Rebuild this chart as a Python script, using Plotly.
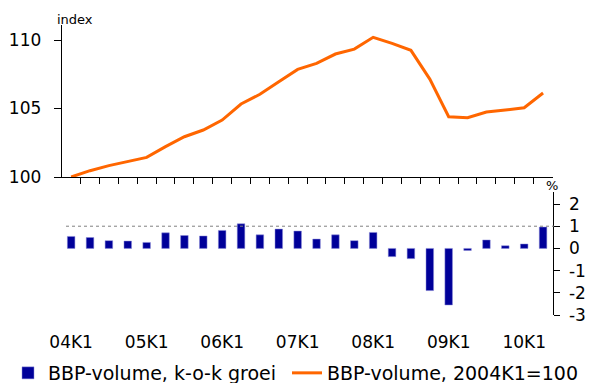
import plotly.graph_objects as go

quarters = ["04K1", "04K2", "04K3", "04K4", "05K1", "05K2", "05K3", "05K4",
            "06K1", "06K2", "06K3", "06K4", "07K1", "07K2", "07K3", "07K4",
            "08K1", "08K2", "08K3", "08K4", "09K1", "09K2", "09K3", "09K4",
            "10K1", "10K2"]
index_values = [100.0, 100.46, 100.83, 101.14, 101.43, 102.22, 102.94, 103.43,
                104.16, 105.33, 106.04, 106.96, 107.86, 108.3, 108.98, 109.34,
                110.2, 109.76, 109.25, 107.15, 104.4, 104.33, 104.74, 104.89,
                105.06, 106.13]
growth = [0.54, 0.49, 0.35, 0.33, 0.27, 0.70, 0.58, 0.56, 0.81, 1.11, 0.61, 0.87,
          0.78, 0.42, 0.61, 0.35, 0.72, -0.37, -0.46, -1.9, -2.55, -0.09, 0.38,
          0.12, 0.2, 0.96]
label_quarters = ["04K1", "05K1", "06K1", "07K1", "08K1", "09K1", "10K1"]
top_ticks = [100, 105, 110]
bottom_ticks = [-3, -2, -1, 0, 1, 2]

W, H = 593, 383
FONT = "DejaVu Sans"
xpos = list(range(len(quarters)))
boundaries = [i + 0.5 for i in xpos[:-1]]
label_pos = [quarters.index(q) for q in label_quarters]
xr = [-0.5, len(quarters) - 0.5]

def px_x(p):
    return p / W

def px_y(p):
    return 1 - p / H

xdom = [px_x(61.7), px_x(552.5)]
fig = go.Figure()
fig.add_trace(go.Bar(x=xpos, y=growth, xaxis="x2", yaxis="y2",
                     name="BBP-volume, k-o-k groei", width=0.4, legend="legend",
                     marker=dict(color="#000099", line=dict(color="#8c8cd9", width=0.5))))
fig.add_trace(go.Scatter(x=xpos, y=index_values, xaxis="x", yaxis="y", mode="lines",
                         name="BBP-volume, 2004K1=100", legend="legend2",
                         line=dict(color="#ff6600", width=3)))

axis_common = dict(showgrid=False, zeroline=False, color="black", automargin=False,
                   tickfont=dict(family=FONT, size=17, color="black"))
legend_common = dict(orientation="h", xanchor="left", y=px_y(392), yanchor="bottom",
                     font=dict(family=FONT, size=19, color="black"),
                     bgcolor="rgba(0,0,0,0)", itemwidth=30)

fig.update_layout(
    width=W, height=H,
    margin=dict(l=0, r=0, t=0, b=0, autoexpand=False),
    paper_bgcolor="white", plot_bgcolor="rgba(0,0,0,0)",
    font=dict(family=FONT, size=17, color="black"),
    xaxis=dict(domain=xdom, anchor="y", range=xr, showline=True, linecolor="black",
               linewidth=1, ticks="outside", ticklen=6, tickcolor="black",
               tickvals=boundaries, showticklabels=False, showgrid=False, zeroline=False),
    yaxis=dict(domain=[px_y(177), px_y(25)], anchor="x", range=[100, 111.1],
               tickvals=top_ticks, showline=True, linecolor="black", linewidth=1,
               ticks="outside", ticklen=7, tickcolor="black", ticklabelstandoff=9,
               **axis_common),
    xaxis2=dict(domain=xdom, anchor="y2", range=xr, showline=False, ticks="",
                tickvals=label_pos, ticktext=label_quarters, ticklabelstandoff=15,
                **axis_common),
    xaxis3=dict(domain=xdom, overlaying="x2", anchor="free", position=px_y(248.7),
                range=xr, showline=True, linecolor="black", linewidth=1,
                ticks="outside", ticklen=6, tickcolor="black", tickvals=boundaries,
                showticklabels=False, showgrid=False, zeroline=False),
    yaxis2=dict(domain=[px_y(315), px_y(191.8)], anchor="x2", side="right",
                range=[-3, 2.55], tickvals=bottom_ticks,
                ticktext=[str(v) for v in bottom_ticks], showline=True,
                linecolor="black", linewidth=1, ticks="outside", ticklen=6,
                tickcolor="black", ticklabelstandoff=6, **axis_common),
    showlegend=True,
    legend=dict(x=px_x(8), **legend_common),
    legend2=dict(x=px_x(287), **legend_common),
    bargap=0.6,
)

fig.add_shape(type="line", xref="paper", yref="y2", x0=px_x(66), x1=px_x(554),
              y0=1, y1=1, line=dict(color="#808080", width=1, dash="dot"))

fig.add_annotation(text="index", xref="paper", yref="paper", x=px_x(55), y=px_y(19.5),
                   xanchor="left", yanchor="middle", showarrow=False,
                   font=dict(family=FONT, size=13, color="black"))
fig.add_annotation(text="%", xref="paper", yref="paper", x=px_x(552), y=px_y(185),
                   xanchor="center", yanchor="middle", showarrow=False,
                   font=dict(family=FONT, size=13, color="black"))

fig.write_html("out.html", config={"displayModeBar": False},
               post_script="document.body.style.margin='0px';")
